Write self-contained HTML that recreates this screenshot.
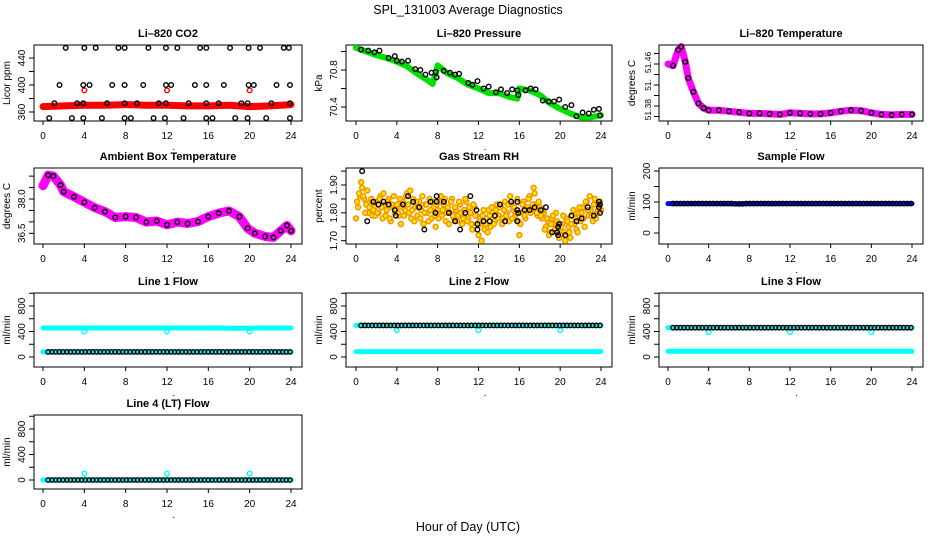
<!DOCTYPE html>
<html><head><meta charset="utf-8">
<style>
html,body{margin:0;padding:0;background:#fff;}
svg{display:block;font-family:"Liberation Sans",sans-serif;}
</style></head>
<body>
<svg id="chart" width="936" height="540" viewBox="0 0 936 540" xmlns="http://www.w3.org/2000/svg">
<rect x="0" y="0" width="936" height="540" fill="#fff"/>
<text x="468" y="14" font-size="12.5" text-anchor="middle">SPL_131003  Average Diagnostics</text>
<text x="468" y="531" font-size="12.5" text-anchor="middle">Hour of Day (UTC)</text>
</svg>
<script>
// ---------- data ----------
const xTicks = [0,4,8,12,16,20,24];

// CO2
const co2BandHours = [0,2,4,6,8,10,12,14,16,18,20,22,24];
const co2BandVals = [368,369,370,370,371,370,370,369,369,370,368,369,371];
const co2RedHours = [4,12,20];
const co2RedVals = [392,392,392];
const co2TopHours = [2.2,4,5.1,7.3,7.9,10.2,11.9,13,15.2,15.8,18.1,19.9,21,23.3,23.8];
const co2MidHours = [1.6,3.9,4.5,6.7,7.9,9.7,11.9,12.4,14.7,15.8,17.5,19.9,20.4,22.6,23.9];
const co2LowHours = [1.1,3.3,3.9,6.2,7.9,9.1,11.2,11.9,14.1,15.8,17,19.2,19.8,22.1,23.9];
const co2BotHours = [0.6,2.8,3.9,5.7,7.9,8.5,10.7,11.8,13.6,15.8,16.4,18.6,19.8,21.6,23.9];
const co2Levels = [455,400,373,351];

// Pressure
const pHours = [0,1,2,3,4,5,6,7,7.5,8,9,10,11,12,13,14,15,15.8,16,17,18,19,20,21,22,23,24];
const pVals = [71.04,71.0,70.96,70.93,70.89,70.84,70.76,70.69,70.65,70.85,70.76,70.71,70.64,70.6,70.55,70.55,70.51,70.49,70.6,70.58,70.53,70.44,70.38,70.33,70.29,70.29,70.31];
const pBlackHours = [0.5,1.2,1.8,2.3,3.2,3.8,4,4.5,5.1,5.8,6.3,6.8,7.4,7.8,7.9,8.6,9.2,9.7,10.1,11,11.4,11.9,12.5,13,13.7,14.2,14.8,15.3,15.8,15.9,16.6,17.1,17.6,18.3,18.9,19.4,19.9,20.5,21.1,21.6,22.2,22.8,23.3,23.8,23.9];
const pBlackVals = [71.02,71.01,70.99,71.01,70.93,70.95,70.9,70.89,70.9,70.81,70.8,70.75,70.77,70.78,70.72,70.79,70.77,70.75,70.76,70.66,70.64,70.68,70.6,70.62,70.56,70.59,70.55,70.59,70.58,70.53,70.58,70.6,70.59,70.47,70.46,70.46,70.48,70.4,70.42,70.3,70.34,70.33,70.37,70.38,70.31];

// Li-820 temperature
const tHours = [0,0.5,1,1.3,1.7,2,2.5,3,3.5,4,5,6,7,8,9,10,11,12,13,14,15,16,17,18,19,20,21,22,23,24];
const tVals = [51.46,51.457,51.487,51.493,51.464,51.433,51.407,51.385,51.376,51.372,51.372,51.370,51.368,51.366,51.366,51.365,51.364,51.367,51.366,51.365,51.365,51.367,51.370,51.372,51.371,51.367,51.364,51.363,51.364,51.364];

// Ambient box temperature
const aHours = [0,0.5,1,1.7,2,3,4,5,6,7,8,9,10,11,12,13,14,15,16,17,18,19,19.8,20.5,21.5,22.3,23,23.6,24];
const aVals = [38.58,39.04,39.0,38.61,38.32,38.1,37.86,37.62,37.45,37.19,37.23,37.19,36.99,37.04,36.87,36.99,36.93,37.01,37.23,37.38,37.48,37.23,36.72,36.5,36.36,36.32,36.61,36.84,36.61];

// Gas stream RH (two interleaved sample sets, 0.2 h spacing)
const rhA = [1.78,1.82,1.86,1.89,1.85,1.83,1.80,1.84,1.79,1.82,
1.84,1.80,1.86,1.78,1.83,1.81,1.85,1.77,1.82,1.80,
1.83,1.79,1.76,1.84,1.81,1.87,1.80,1.78,1.85,1.82,
1.79,1.84,1.81,1.76,1.83,1.80,1.85,1.78,1.82,1.75,
1.81,1.84,1.79,1.83,1.77,1.82,1.80,1.85,1.78,1.81,
1.79,1.83,1.76,1.81,1.84,1.78,1.80,1.74,1.82,1.79,
1.72,1.76,1.79,1.74,1.78,1.81,1.75,1.80,1.77,1.83,
1.79,1.82,1.78,1.84,1.80,1.77,1.83,1.81,1.79,1.85,
1.72,1.80,1.84,1.78,1.82,1.86,1.81,1.89,1.83,1.79,
1.82,1.78,1.80,1.75,1.77,1.73,1.78,1.76,1.80,1.74,
1.72,1.76,1.73,1.78,1.75,1.71,1.79,1.76,1.74,1.80,
1.77,1.82,1.75,1.84,1.79,1.81,1.77,1.85,1.80,1.83,1.81];
const rhB = [1.84,1.87,1.91,1.86,1.80,1.88,1.82,1.85,1.81,1.79,
1.80,1.85,1.82,1.87,1.79,1.84,1.78,1.83,1.86,1.81,
1.80,1.85,1.82,1.79,1.86,1.83,1.88,1.81,1.77,1.84,
1.82,1.78,1.86,1.80,1.83,1.77,1.81,1.84,1.79,1.83,
1.78,1.86,1.81,1.85,1.80,1.76,1.84,1.79,1.82,1.77,
1.84,1.80,1.78,1.85,1.77,1.82,1.76,1.83,1.79,1.76,
1.77,1.70,1.81,1.76,1.73,1.79,1.82,1.76,1.81,1.78,
1.82,1.76,1.81,1.79,1.83,1.86,1.78,1.82,1.80,1.77,
1.76,1.83,1.79,1.81,1.85,1.80,1.83,1.87,1.80,1.84,
1.79,1.81,1.74,1.78,1.72,1.76,1.79,1.74,1.77,1.71,
1.75,1.79,1.70,1.77,1.73,1.76,1.81,1.78,1.73,1.82,
1.80,1.78,1.84,1.81,1.86,1.79,1.83,1.78,1.81,1.84];
const rhBlackHours = [0.6,1.1,1.7,2.2,2.7,3.2,3.8,3.9,4.6,5.1,5.6,6.2,6.7,7.3,7.8,7.9,7.9,8.6,9.1,9.7,10.2,10.7,11.2,11.8,11.9,11.9,12.5,13.1,13.6,14.1,14.6,15.2,15.8,15.8,15.9,15.8,16.5,17,17.5,18.1,18.6,19.2,19.7,19.8,19.8,19.9,20.5,21.1,21.6,22.1,22.7,23.3,23.8,23.8,23.9,23.9];
const rhBlackVals = [1.95,1.77,1.84,1.83,1.84,1.83,1.81,1.79,1.83,1.86,1.84,1.82,1.74,1.84,1.80,1.86,1.84,1.84,1.80,1.77,1.74,1.80,1.86,1.81,1.76,1.74,1.77,1.77,1.79,1.83,1.77,1.84,1.84,1.81,1.80,1.77,1.81,1.81,1.82,1.81,1.82,1.73,1.73,1.75,1.72,1.76,1.72,1.79,1.77,1.78,1.82,1.79,1.84,1.82,1.80,1.83];

// Flows (hourly values, 0..24)
const sampleFlow = [95,95,95,95,95,95,95,94,95,95,95,95,95,95,95,95,95,95,95,95,95,95,95,95,95];
const line1High = [455,455,455,455,455,455,455,455,455,455,455,455,455,455,455,455,455,455,450,450,452,455,455,455,455];
const line1Low = [80,80,80,80,80,80,80,80,80,80,80,80,80,80,80,80,80,80,80,80,80,80,80,80,80];
const line1Spikes = [400,400,400];
const line2High = [495,495,495,495,495,495,495,495,495,495,495,495,495,495,495,495,495,495,495,495,495,495,495,495,495];
const line2Low = [85,85,85,85,85,85,85,85,85,85,85,85,85,85,85,85,85,85,85,85,85,85,85,85,85];
const line2Spikes = [420,420,420];
const line3High = [460,460,460,460,460,460,460,460,460,460,460,460,460,460,460,460,460,460,460,460,460,460,460,460,460];
const line3Low = [90,90,90,90,90,90,90,90,90,90,90,90,90,90,90,90,90,90,90,90,90,90,90,90,90];
const line3Spikes = [390,390,390];
const line4Vals = [0,0,0,0,0,0,0,0,0,0,0,0,0,0,0,0,0,0,0,0,0,0,0,0,0];
const line4Spikes = [100,100,100];
const spikeHours = [4,12,20];

// ---------- drawing ----------
const NS = 'http://www.w3.org/2000/svg';
const svg = document.getElementById('chart');
function mk(tag, attrs, parent){
  const e = document.createElementNS(NS, tag);
  for (const k in attrs) e.setAttribute(k, attrs[k]);
  (parent||svg).appendChild(e);
  return e;
}
function makePanel(p){
  const g = mk('g', {});
  
  
  const sx = h => p.h0 + (p.h24 - p.h0) * h / 24;
  const sy = v => p.py1 + (v - p.v1) * (p.py2 - p.py1) / (p.v2 - p.v1);
  const box = mk('rect', {x:p.L, y:p.T, width:p.R-p.L, height:p.B-p.T, fill:'none', stroke:'#000', 'stroke-width':1}, g);
  
  
  const t = mk('text', {x:(p.L+p.R)/2, y:p.T-8, 'font-size':11, 'font-weight':'bold', 'text-anchor':'middle'}, g);
  t.textContent = p.title;
  
  
  xTicks.forEach(h => {
    const x = sx(h);
    mk('line', {x1:x, y1:p.B, x2:x, y2:p.B+4, stroke:'#000'}, g);
    const tl = mk('text', {x:x, y:p.B+18, 'font-size':10, 'text-anchor':'middle'}, g);
    tl.textContent = h;
    
    
  });
  mk('rect', {x:sx(12.6), y:p.B+28, width:1, height:1, fill:'#000'}, g);
  p.yTicks.forEach(v => {
    const y = sy(v);
    mk('line', {x1:p.L, y1:y, x2:p.L-5, y2:y, stroke:'#000'}, g);
  });
  const fs = p.yfs || 10;
  const lx = p.L - (p.ylx || 9);
  p.yLabels.forEach((lab, i) => {
    const y = sy(p.yLabelVals[i]);
    const tl = mk('text', {x:lx, y:y, 'font-size':fs, 'text-anchor':'middle', transform:`rotate(-90 ${lx} ${y})`}, g);
    tl.textContent = lab;
    
    
  });
  const yt = mk('text', {x:p.L-24, y:(p.T+p.B)/2, 'font-size':10, 'text-anchor':'middle', transform:`rotate(-90 ${p.L-24} ${(p.T+p.B)/2})`}, g);
  yt.textContent = p.ylab;
  
  
  const data = mk('g', {}, g);
  
  
  return {g:data, sx, sy};
}
function band(P, hours, vals, color, w){
  const pts = hours.map((h,i) => P.sx(h).toFixed(1)+','+P.sy(vals[i]).toFixed(1)).join(' ');
  const pl = mk('polyline', {points:pts, fill:'none', stroke:color, 'stroke-width':w, 'stroke-linejoin':'round', 'stroke-linecap':'round'}, P.g);
  
  
}
function dot(P, h, v, color, r, fill){
  const c = mk('circle', {cx:P.sx(h), cy:P.sy(v), r:r||2.3, fill:fill||'none', stroke:color, 'stroke-width':1.4}, P.g);
  
  
}
function flowDots(P, vals, color){
  for (let h = 0.5; h <= 23.95; h += 0.36) dot(P, h, vals[Math.round(h)], color, 2.2);
}
const hrs = Array.from({length:25}, (_, i) => i);

let P = makePanel({name:'panel-co2', title:'Li\u2013820 CO2', ylab:'Licor ppm', L:34,R:302,T:45,B:121,h0:43,h24:291,v1:360,py1:112,v2:440,py2:58,yTicks:[360,380,400,420,440],yLabels:['360','400','440'],yLabelVals:[360,400,440]});
band(P, co2BandHours, co2BandVals, '#ff0000', 7);
co2RedHours.forEach((h,i) => dot(P, h, co2RedVals[i], '#ff0000'));
[co2TopHours, co2MidHours, co2LowHours, co2BotHours].forEach((arr, k) => arr.forEach(h => dot(P, h, co2Levels[k], '#000')));

P = makePanel({name:'panel-pressure', title:'Li\u2013820 Pressure', ylab:'kPa', L:346,R:612,T:45,B:121,h0:356,h24:601,v1:70.4,py1:107,v2:70.8,py2:70,yTicks:[70.4,70.6,70.8,71.0],yLabels:['70.4','70.8'],yLabelVals:[70.4,70.8]});
band(P, pHours, pVals, '#00e000', 6);
pBlackHours.forEach((h,i) => dot(P, h, pBlackVals[i], '#000'));

P = makePanel({name:'panel-li820-temperature', title:'Li\u2013820 Temperature', ylab:'degrees C', L:659,R:923,T:45,B:121,h0:668,h24:912,v1:51.38,py1:106,v2:51.46,py2:64,yTicks:[51.36,51.38,51.40,51.42,51.44,51.46,51.48],yLabels:['51.38','51.','51.46'],yLabelVals:[51.373,51.42,51.463],yfs:8.5,ylx:8});
band(P, tHours, tVals, '#ff00ff', 7);
tHours.forEach((h,i) => { if (h > 0.3) dot(P, h, tVals[i], '#000'); });

P = makePanel({name:'panel-ambient-temperature', title:'Ambient Box Temperature', ylab:'degrees C', L:34,R:302,T:168,B:244,h0:43,h24:291,v1:36.5,py1:233.3,v2:38.0,py2:199,yTicks:[36.5,37.0,37.5,38.0,38.5,39.0],yLabels:['36.5','38.0'],yLabelVals:[36.5,38.0]});
band(P, aHours, aVals, '#ff00ff', 9);
aHours.forEach((h,i) => { if (h > 0.3) dot(P, h, aVals[i], '#000'); });

P = makePanel({name:'panel-gas-rh', title:'Gas Stream RH', ylab:'percent', L:346,R:612,T:168,B:244,h0:356,h24:601,v1:1.70,py1:240.7,v2:1.90,py2:185,yTicks:[1.70,1.75,1.80,1.85,1.90,1.95],yLabels:['1.70','1.80','1.90'],yLabelVals:[1.70,1.80,1.90]});
rhA.forEach((v,i) => dot(P, i*0.2, v, '#f39000', 2.5, '#ffe600'));
rhB.forEach((v,i) => dot(P, 0.1+i*0.2, v, '#f39000', 2.5, '#ffe600'));
rhBlackHours.forEach((h,i) => dot(P, h, rhBlackVals[i], '#000'));

P = makePanel({name:'panel-sample-flow', title:'Sample Flow', ylab:'ml/min', L:659,R:923,T:168,B:244,h0:668,h24:912,v1:0,py1:233,v2:200,py2:171,yTicks:[0,50,100,150,200],yLabels:['0','100','200'],yLabelVals:[0,100,200]});
band(P, hrs, sampleFlow, '#0000ff', 5);
flowDots(P, sampleFlow, '#000');

const flowCfg = {ylab:'ml/min', yTicks:[0,200,400,600,800,1000], yLabels:['0','400','800'], yLabelVals:[0,400,800]};
P = makePanel(Object.assign({name:'panel-line1-flow', title:'Line 1 Flow', L:34,R:302,T:293,B:367,h0:43,h24:291,v1:0,py1:357,v2:800,py2:306}, flowCfg));
band(P, hrs, line1High, '#00ffff', 5);
band(P, hrs, line1Low, '#00ffff', 5);
spikeHours.forEach((h,i) => dot(P, h, line1Spikes[i], '#00ffff'));
flowDots(P, line1Low, '#000');

P = makePanel(Object.assign({name:'panel-line2-flow', title:'Line 2 Flow', L:346,R:612,T:293,B:367,h0:356,h24:601,v1:0,py1:357,v2:800,py2:306}, flowCfg));
band(P, hrs, line2High, '#00ffff', 5);
band(P, hrs, line2Low, '#00ffff', 5);
spikeHours.forEach((h,i) => dot(P, h, line2Spikes[i], '#00ffff'));
flowDots(P, line2High, '#000');

P = makePanel(Object.assign({name:'panel-line3-flow', title:'Line 3 Flow', L:659,R:923,T:293,B:367,h0:668,h24:912,v1:0,py1:357,v2:800,py2:306}, flowCfg));
band(P, hrs, line3High, '#00ffff', 5);
band(P, hrs, line3Low, '#00ffff', 5);
spikeHours.forEach((h,i) => dot(P, h, line3Spikes[i], '#00ffff'));
flowDots(P, line3High, '#000');

P = makePanel(Object.assign({name:'panel-line4-flow', title:'Line 4 (LT) Flow', L:34,R:302,T:415,B:489,h0:43,h24:291,v1:0,py1:480,v2:800,py2:429}, flowCfg));
band(P, hrs, line4Vals, '#00ffff', 5);
spikeHours.forEach((h,i) => dot(P, h, line4Spikes[i], '#00ffff'));
flowDots(P, line4Vals, '#000');
</script>
</body></html>
